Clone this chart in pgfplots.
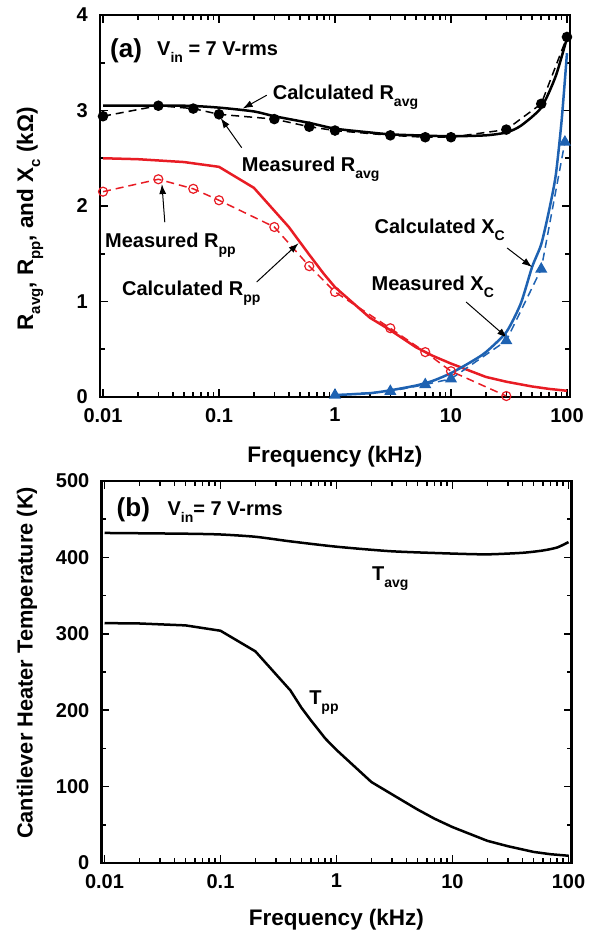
\documentclass[border=0pt]{standalone}
\usepackage{fontspec}
\setmainfont{Liberation Sans}
\usepackage{pgfplots}
\pgfplotsset{compat=1.18}
\usetikzlibrary{arrows.meta}
\definecolor{myred}{RGB}{232,28,36}
\definecolor{myblue}{RGB}{30,98,178}
\newcommand{\sub}[2][14]{\raisebox{-7pt}{\fontsize{#1}{#1}\selectfont #2}}
\newcommand{\fs}[1]{\fontsize{#1}{#1}\selectfont\bfseries}

\pgfplotsset{
 myaxis/.style={
  scale only axis, width=470pt, height=382pt,
  xmin=0.00942, xmax=106.2,
  axis line style={line width=2.5pt},
  every tick/.style={black, line width=1.6pt},
  major tick length=8pt, minor tick length=5pt,
  tick align=inside,
  xtick={0.01,0.1,1,10,100}, xticklabels={0.01,0.1,1,10,100},
  minor xtick={0.02,0.03,0.04,0.05,0.06,0.07,0.08,0.09,0.2,0.3,0.4,0.5,0.6,0.7,0.8,0.9,2,3,4,5,6,7,8,9,20,30,40,50,60,70,80,90},
  xticklabel style={font=\fs{20}, inner sep=0pt, yshift=-11pt},
  yticklabel style={font=\fs{20}, inner sep=0pt, xshift=-12pt},
  xlabel style={font=\fs{22.5}},
  ylabel style={font=\fs{22.5}},
  xlabel={Frequency (kHz)},
  clip=false,
 },
}
\tikzset{
 ann/.style={font=\fs{20}, anchor=base west, inner sep=0pt},
 arr/.style={-{Latex[length=10pt,width=7pt]}, line width=1pt},
}

\begin{document}
\begin{tikzpicture}
\path[use as bounding box] (0,0) rectangle (599pt,935pt);

% ---------------- (a) ----------------
\begin{semilogxaxis}[myaxis, at={(100pt,538pt)}, anchor=south west,
  ymin=0, ymax=4, ytick={0,1,2,3,4}, yticklabels={0,1,2,3,4},
  minor ytick={0.5,1.5,2.5,3.5},
  ylabel={R\sub[15]{avg}, R\sub[15]{pp}, and X\sub[15]{c} (kΩ)},
  ylabel style={at={(axis description cs:-0.149,0.466)}, anchor=center},
  xlabel style={at={(axis description cs:0.5,-0.157)}, anchor=center},
]
% calculated R_pp
\addplot[myred, line width=2.5pt] coordinates {
(0.01,2.50) (0.02,2.49) (0.05,2.46) (0.1,2.41) (0.2,2.19) (0.4,1.78) (0.5,1.62)
(0.6,1.49) (0.8,1.29) (1,1.15) (2,0.83) (3,0.70) (5,0.52) (7,0.43) (10,0.35)
(20,0.21) (30,0.16) (50,0.11) (70,0.085) (100,0.065)};
% measured R_pp
\addplot[myred, line width=1.5pt, dash pattern=on 8pt off 5pt, mark=o,
  mark size=4.5pt, mark options={solid, fill=white, line width=1.2pt}] coordinates {
(0.01,2.15) (0.03,2.28) (0.06,2.18) (0.1,2.06) (0.3,1.78) (0.6,1.37) (1,1.10)
(3,0.72) (6,0.47) (10,0.27) (30,0.01)};
% calculated X_C
\addplot[myblue, line width=2.5pt, smooth, tension=0.4] coordinates {
(1,0.02) (2,0.04) (3,0.07) (5,0.12) (7,0.17) (10,0.25) (15,0.37) (20,0.47)
(30,0.68) (40,0.98) (50,1.36) (60,1.60) (70,1.95) (80,2.32) (90,2.90) (100,3.60)};
% measured X_C
\addplot[myblue, line width=1.5pt, dash pattern=on 8pt off 5pt, mark=triangle*,
  mark size=5.5pt, mark options={solid}] coordinates {
(1,0.02) (3,0.06) (6,0.13) (10,0.19) (30,0.59) (60,1.34) (96,2.67)};
% calculated R_avg
\addplot[black, line width=2.5pt, smooth, tension=0.4] coordinates {
(0.01,3.05) (0.05,3.05) (0.1,3.03) (0.2,2.99) (0.3,2.94) (0.6,2.87) (1,2.81)
(2,2.77) (3,2.75) (5,2.74) (10,2.73) (20,2.74) (30,2.77) (40,2.84) (60,3.03)
(80,3.36) (100,3.76)};
% measured R_avg
\addplot[black, line width=1.5pt, dash pattern=on 8pt off 5pt, mark=*,
  mark size=4.5pt, mark options={solid}] coordinates {
(0.01,2.94) (0.03,3.05) (0.06,3.02) (0.1,2.96) (0.3,2.91) (0.6,2.83) (1,2.79)
(3,2.74) (6,2.72) (10,2.72) (30,2.80) (60,3.07) (100,3.77)};

\node[ann, font=\fs{26}] at (axis cs:0.01148,3.55) {(a)};
\node[ann] at (axis cs:0.0292,3.58) {V\sub{in} = 7 V-rms};
\node[ann] at (axis cs:0.29,3.11) {Calculated R\sub{avg}};
\draw[arr] (axis cs:0.258,3.16) -- (axis cs:0.16,3.02);
\node[ann] at (axis cs:0.157,2.356) {Measured R\sub{avg}};
\draw[arr] (axis cs:0.157,2.61) -- (axis cs:0.1035,2.92);
\node[ann] at (axis cs:0.0104,1.57) {Measured R\sub{pp}};
\draw[arr] (axis cs:0.0341,1.83) -- (axis cs:0.0322,2.23);
\node[ann] at (axis cs:0.01456,1.06) {Calculated R\sub{pp}};
\draw[arr] (axis cs:0.2113,1.204) -- (axis cs:0.485,1.61);
\node[ann] at (axis cs:2.19,1.717) {Calculated X\sub{C}};
\draw[arr] (axis cs:30.5,1.56) -- (axis cs:50,1.36);
\node[ann] at (axis cs:2.06,1.12) {Measured X\sub{C}};
\draw[arr] (axis cs:13.5,0.995) -- (axis cs:30.5,0.62);
\end{semilogxaxis}

% ---------------- (b) ----------------
\begin{semilogxaxis}[myaxis, at={(101.5pt,72pt)}, anchor=south west,
  ymin=0, ymax=500, ytick={0,100,200,300,400,500},
  yticklabels={0,100,200,300,400,500},
  minor ytick={50,150,250,350,450},
  ylabel={Cantilever Heater Temperature (K)},
  ylabel style={at={(axis description cs:-0.1585,0.524)}, anchor=center, font=\fs{21.8}},
  xlabel style={at={(axis description cs:0.5,-0.149)}, anchor=center},
]
\addplot[black, line width=2.5pt, smooth, tension=0.4] coordinates {
(0.01,432) (0.05,431) (0.1,430) (0.2,427) (0.4,421) (1,414) (3,408) (10,405)
(20,404) (40,406) (60,409) (80,413) (100,420)};
\addplot[black, line width=2.5pt] coordinates {
(0.01,314) (0.02,313.5) (0.05,311) (0.1,304) (0.2,277) (0.4,226) (0.5,203)
(0.6,187) (0.8,163) (1,148) (2,106) (3,90) (5,70) (7,58) (10,47) (20,29)
(30,22) (50,14.5) (70,11.5) (100,9.5)};

\node[ann, font=\fs{26}] at (axis cs:0.0127,453) {(b)};
\node[ann] at (axis cs:0.0348,455) {V\sub{in}= 7 V-rms};
\node[ann] at (axis cs:2.02,370) {T\sub{avg}};
\node[ann] at (axis cs:0.58,207) {T\sub{pp}};
\end{semilogxaxis}
\end{tikzpicture}
\end{document}
